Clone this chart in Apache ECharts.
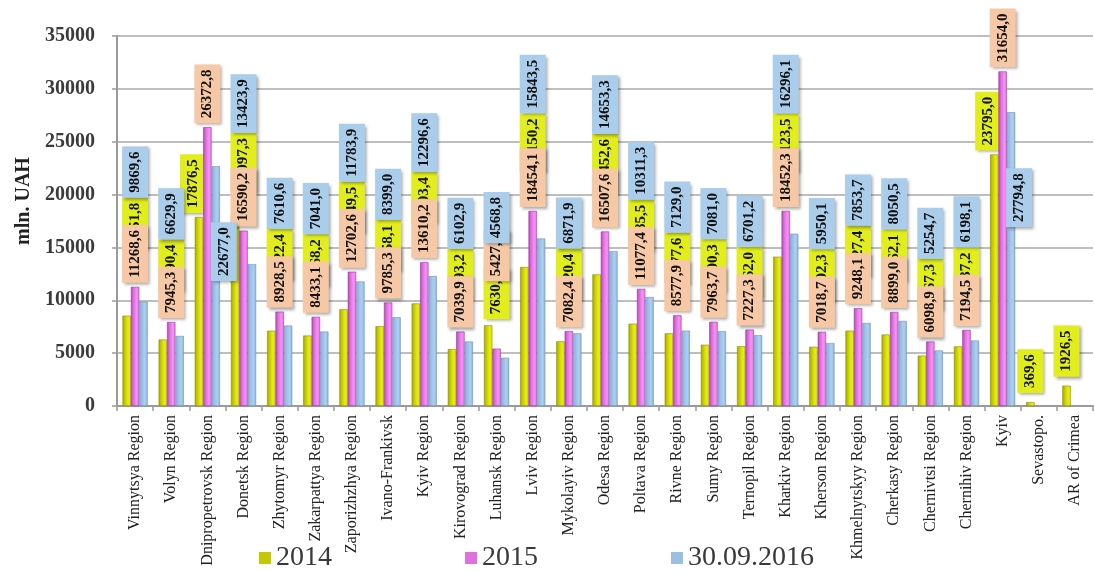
<!DOCTYPE html>
<html>
<head>
<meta charset="utf-8">
<script src="https://cdn.jsdelivr.net/npm/echarts@6/dist/echarts.min.js"></script>
<style>
  html, body { margin: 0; padding: 0; background: #fff; }
  #chart { width: 1095px; height: 571px; }
</style>
</head>
<body>
<div id="chart"></div>
<script>
// Regional budget revenues, mln. UAH
const categories = [
  "Vinnytsya Region", "Volyn Region", "Dnipropetrovsk Region", "Donetsk Region",
  "Zhytomyr Region", "Zakarpattya Region", "Zaporizhzhya Region", "Ivano-Frankivsk",
  "Kyiv Region", "Kirovograd Region", "Luhansk Region", "Lviv Region",
  "Mykolayiv Region", "Odesa Region", "Poltava Region", "Rivne Region",
  "Sumy Region", "Ternopil Region", "Kharkiv Region", "Kherson Region",
  "Khmelnytskyy Region", "Cherkasy Region", "Chernivtsi Region", "Chernihiv Region",
  "Kyiv", "Sevastopol", "AR of Crimea"
];
const values2014 = [
  8551.8, 6290.4, 17876.5, 18097.3, 7122.4, 6668.2, 9149.5, 7558.1, 9703.4,
  5393.2, 7630.1, 13150.2, 6120.4, 12452.6, 7785.5, 6877.6, 5800.3, 5662.0,
  14123.5, 5602.3, 7127.4, 6762.1, 4767.3, 5637.2, 23795.0, 369.6, 1926.5
];
const values2015 = [
  11268.6, 7945.3, 26372.8, 16590.2, 8928.5, 8433.1, 12702.6, 9785.3, 13610.2,
  7039.9, 5427.6, 18454.1, 7082.4, 16507.6, 11077.4, 8577.9, 7963.7, 7227.3,
  18452.3, 7018.7, 9248.1, 8899.0, 6098.9, 7194.5, 31654.0, null, null
];
const values2016 = [
  9869.6, 6629.9, 22677.0, 13423.9, 7610.6, 7041.0, 11783.9, 8399.0, 12296.6,
  6102.9, 4568.8, 15843.5, 6871.9, 14653.3, 10311.3, 7129.0, 7081.0, 6701.2,
  16296.1, 5950.1, 7853.7, 8050.5, 5254.7, 6198.1, 27794.8, null, null
];
const seriesNames = ["2014", "2015", "30.09.2016"];
const yTicks = { min: 0, max: 35000, interval: 5000 };

// plot geometry
const GRID = { left: 117, right: 2, top: 36, bottom: 165 };
const CH = 571;
const plotH = CH - GRID.top - GRID.bottom;
const yPx = v => GRID.top + plotH * (1 - v / yTicks.max);

const SERIF = 'Liberation Serif';
const LABEL_FONT = 'bold 15px "Liberation Serif"';
const PAD = 5;
const measureCtx = document.createElement('canvas').getContext('2d');
measureCtx.font = LABEL_FONT;
const boxLen = t => measureCtx.measureText(t).width + 2 * PAD;

const fmt = v => v.toFixed(1).replace('.', ',');

const seriesData = [values2014, values2015, values2016];
const labelBg = ['#e2ee1c', '#f7c8a6', '#aacdeb'];

// Stacks each region's value boxes above its bars
function placeLabel(p) {
  const s = p.seriesIndex, i = p.dataIndex;
  const r = p.rect;
  const barCx = r.x + r.width / 2;
  const groupCx = barCx + (1 - s) * r.width;
  const text = fmt(seriesData[s][i]);
  const h = boxLen(text);
  const y14 = values2014[i], y15 = values2015[i], y16 = values2016[i];
  const at = (x, y) => ({ x: x, y: y, align: 'center', verticalAlign: 'middle' });

  if (y15 == null) {
    return at(barCx, yPx(y14) - 9 - h / 2);
  }
  const hP = boxLen(fmt(y15)), hY = boxLen(fmt(y14)), hB = boxLen(fmt(y16));
  const Pt = yPx(y15), Yt = yPx(y14), Bt = yPx(y16);

  if (y14 - y15 > 2000) {
    // yellow box sits lowest
    const bottoms = [Yt - 6, Yt - 44, Yt - 82];
    return at(groupCx, bottoms[s] - h / 2);
  }
  const pinkBottom = Pt - 4;
  const yellowBottom = pinkBottom - hP + 24;
  const blueBottom = yellowBottom - hY;
  if (blueBottom - hB < GRID.top - 6) {
    // tall regions: boxes spread around their own bars
    if (s === 1) return at(barCx, pinkBottom - h / 2);
    if (s === 0) return at(barCx - 6, Yt - 4 - h / 2);
    return at(barCx + 8, Bt + 56 + h / 2);
  }
  const bottoms = [yellowBottom, pinkBottom, blueBottom];
  return at(groupCx, bottoms[s] - h / 2);
}

function grad(stops) {
  return new echarts.graphic.LinearGradient(0, 0, 1, 0,
    stops.map((c, k) => ({ offset: k / (stops.length - 1), color: c })));
}
const barColors = [
  grad(['#a6a400', '#c9cf00', '#e4ec14', '#dde600']),
  grad(['#b048b0', '#e070e0', '#f590f5', '#e67ae6']),
  grad(['#86acd4', '#9cc0e4', '#acd0f0', '#8fb2d8'])
];
const borderColors = ['#8f8f00', '#9a3a9a', '#6f93ba'];
const legendColors = ['#c4c800', '#e070e0', '#9cc0e4'];

function makeSeries(k) {
  return {
    name: seriesNames[k],
    type: 'bar',
    data: seriesData[k],
    barWidth: 8.4,
    barGap: '0%',
    itemStyle: {
      color: barColors[k],
      borderColor: borderColors[k],
      borderWidth: 0.6
    },
    label: {
      show: true,
      position: 'top',
      rotate: 90,
      formatter: p => fmt(p.value),
      fontFamily: SERIF,
      fontWeight: 'bold',
      fontSize: 15,
      lineHeight: 16,
      color: '#111',
      backgroundColor: labelBg[k],
      padding: PAD,
      shadowColor: 'rgba(0,0,0,0.35)',
      shadowBlur: 3,
      shadowOffsetX: 2,
      shadowOffsetY: 2
    },
    labelLayout: placeLabel,
    z: 2 + k
  };
}

const chart = echarts.init(document.getElementById('chart'), null, { renderer: 'canvas' });
chart.setOption({
  animation: false,
  backgroundColor: '#ffffff',
  textStyle: { fontFamily: SERIF },
  grid: { left: GRID.left, right: GRID.right, top: GRID.top, bottom: GRID.bottom, containLabel: false },
  legend: {
    data: seriesNames.map((n, k) => ({ name: n, itemStyle: { color: legendColors[k], borderWidth: 0 } })),
    left: 254,
    top: 539,
    icon: 'rect',
    itemWidth: 12,
    itemHeight: 12,
    itemGap: 133,
    textStyle: { fontFamily: SERIF, fontSize: 28, color: '#3a3a3a' }
  },
  xAxis: {
    type: 'category',
    data: categories,
    axisLine: { lineStyle: { color: '#9a9a9a', width: 2 } },
    axisTick: { show: true, alignWithLabel: false, length: 5, lineStyle: { color: '#9a9a9a', width: 1.5 } },
    axisLabel: {
      rotate: 90,
      interval: 0,
      margin: 9,
      fontFamily: SERIF,
      fontSize: 16,
      color: '#222',
      formatter: v => v === 'Sevastopol' ? 'Sevastopo.' : v
    }
  },
  yAxis: {
    type: 'value',
    min: yTicks.min,
    max: yTicks.max,
    interval: yTicks.interval,
    name: 'mln. UAH',
    nameLocation: 'middle',
    nameRotate: 90,
    nameGap: 80,
    nameTextStyle: { fontFamily: SERIF, fontWeight: 'bold', fontSize: 20, color: '#222', padding: [0, 0, 0, 40] },
    axisLine: { show: true, lineStyle: { color: '#9a9a9a', width: 2 } },
    axisTick: { show: true, length: 5, lineStyle: { color: '#9a9a9a', width: 1.5 } },
    axisLabel: {
      margin: 22,
      fontFamily: SERIF,
      fontWeight: 'bold',
      fontSize: 20,
      color: '#3a3a3a',
      formatter: v => String(v)
    },
    splitLine: { lineStyle: { color: '#a8a8a8', width: 1.6 } }
  },
  series: [makeSeries(0), makeSeries(1), makeSeries(2)]
});
</script>
</body>
</html>
